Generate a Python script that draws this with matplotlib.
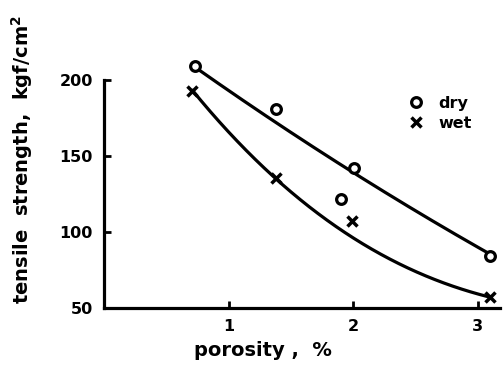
import numpy as np
import matplotlib
matplotlib.use("Agg")
import matplotlib.pyplot as plt

# measured points
dry_x = [0.73, 1.38, 2.01, 1.90, 3.10]
dry_y = [209, 181, 142, 122, 84]
wet_x = [0.71, 1.38, 1.99, 3.10]
wet_y = [193, 135.5, 107, 57]

# points
dry_curve_x = [0.73, 1.18, 1.57, 2.0, 2.78, 3.10]
dry_curve_y = [209, 183, 160.5, 139.5, 102.6, 84]
wet_curve_x = [0.71, 1.17, 1.38, 1.73, 2.0, 2.54, 3.10]
wet_curve_y = [193, 152, 135.5, 110, 96.7, 73, 57]

xticks = [1, 2, 3]
yticks = [50, 100, 150, 200]

plt.rcParams['font.family'] = ['DejaVu Sans']
plt.rcParams['font.weight'] = 'bold'

fig = plt.figure(figsize=(5.04, 3.69), dpi=100)
W, H = 504, 369
x0px, x1px = 104, 500
ybot, ytop_px = 308, 55
ax = fig.add_axes([x0px / W, 1 - ybot / H, (x1px - x0px) / W, (ybot - ytop_px) / H])

ax.set_xlim(0, (x1px - x0px) / 124.5)
ax.set_ylim(50, 50 + (ybot - ytop_px) / 1.52)

# curves
cd = np.polyfit(dry_curve_x, dry_curve_y, 2)
xs = np.linspace(dry_curve_x[0], dry_curve_x[-1], 200)
ax.plot(xs, np.polyval(cd, xs), color='black', lw=2.3, solid_capstyle='round')
cw = np.polyfit(wet_curve_x, wet_curve_y, 3)
xs = np.linspace(wet_curve_x[0], wet_curve_x[-1], 200)
ax.plot(xs, np.polyval(cw, xs), color='black', lw=2.3, solid_capstyle='round')

ax.plot(dry_x, dry_y, 'o', ms=7, mfc='white', mec='black', mew=2.3, ls='none', label='dry')
ax.plot(wet_x, wet_y, 'x', ms=7, mec='black', mew=2.5, ls='none', label='wet')

for s in ['top', 'right']:
    ax.spines[s].set_visible(False)
for s in ['left', 'bottom']:
    ax.spines[s].set_linewidth(2.3)
ax.spines['left'].set_bounds(50, 200)

ax.set_xticks(xticks)
ax.set_xticklabels([str(t) for t in xticks])
ax.set_yticks(yticks)
ax.set_yticklabels([str(t) for t in yticks])
ax.tick_params(axis='both', direction='in', length=5, width=2, labelsize=11.5, pad=8)
for lab in ax.get_xticklabels() + ax.get_yticklabels():
    lab.set_fontweight('bold')

fig.text(22 / W, 1 - 160 / H, 'tensile  strength,  kgf/cm$^\\mathbf{2}$', rotation=90,
         ha='center', va='center', fontsize=14, fontweight='bold')
fig.text(263 / W, 1 - 350 / H, 'porosity ,  %', ha='center', va='center',
         fontsize=14, fontweight='bold')

leg = ax.legend(loc='upper left', bbox_to_anchor=((400 - x0px) / (x1px - x0px), 1 - (88 - ytop_px) / (ybot - ytop_px)),
                frameon=False, handlelength=1.0, handletextpad=0.9, borderpad=0,
                labelspacing=0.3, prop={'weight': 'bold', 'size': 11.5})

fig.savefig('out.png', dpi=100)
